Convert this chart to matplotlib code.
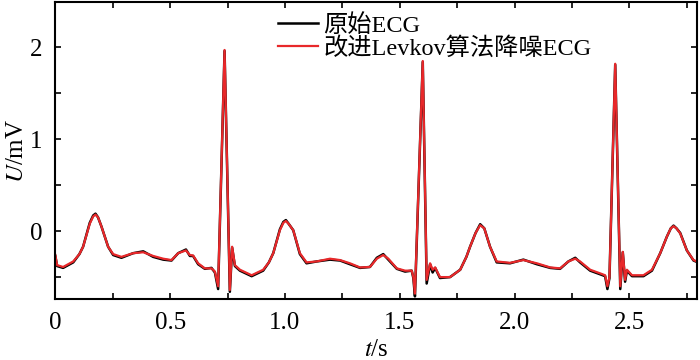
import numpy as np
import matplotlib
matplotlib.use("Agg")
import matplotlib.pyplot as plt
from matplotlib.ticker import MultipleLocator

plt.rcParams['font.family'] = ['Liberation Serif', 'Noto Sans CJK SC', 'DejaVu Sans']
plt.rcParams['mathtext.fontset'] = 'stix'

# time (s) of knots
t = [0.000, 0.008, 0.034, 0.078, 0.105, 0.121, 0.150, 0.165, 0.175, 0.186, 0.201,
     0.230, 0.252, 0.288, 0.339, 0.383, 0.426, 0.470, 0.506, 0.535, 0.569,
     0.586, 0.600, 0.622, 0.651, 0.680, 0.695, 0.709, 0.737, 0.760, 0.770,
     0.782, 0.804, 0.855, 0.905, 0.930, 0.949, 0.978, 0.993, 1.004, 1.016,
     1.036, 1.065, 1.094, 1.138, 1.196, 1.240, 1.283, 1.327, 1.370, 1.400,
     1.428, 1.450, 1.487, 1.523, 1.552, 1.559, 1.566, 1.600, 1.617, 1.632,
     1.643, 1.654, 1.675, 1.719, 1.763, 1.790, 1.806, 1.830, 1.850, 1.868,
     1.893, 1.922, 1.980, 2.038, 2.097, 2.155, 2.198, 2.234, 2.264, 2.285,
     2.329, 2.373, 2.394, 2.404, 2.413, 2.438, 2.460, 2.471, 2.481, 2.489,
     2.511, 2.561, 2.598, 2.634, 2.663, 2.680, 2.692, 2.705, 2.721, 2.750,
     2.779, 2.808]

# denoised ECG (mV)
ecg_denoised = [-0.26, -0.37, -0.39, -0.33, -0.25, -0.17, 0.08, 0.16, 0.18, 0.15, 0.05,
                -0.17, -0.25, -0.28, -0.24, -0.23, -0.27, -0.30, -0.315, -0.24, -0.21,
                -0.26, -0.265, -0.35, -0.405, -0.405, -0.44, -0.60, 1.97, -0.64, -0.17,
                -0.37, -0.42, -0.48, -0.42, -0.34, -0.24, 0.01, 0.09, 0.11, 0.08,
                0.01, -0.24, -0.34, -0.33, -0.30, -0.315, -0.35, -0.395, -0.39, -0.30,
                -0.26, -0.30, -0.405, -0.43, -0.43, -0.50, -0.68, 1.85, -0.53, -0.35,
                -0.42, -0.395, -0.50, -0.50, -0.42, -0.28, -0.17, -0.02, 0.065, 0.03,
                -0.17, -0.33, -0.345, -0.315, -0.35, -0.395, -0.405, -0.33, -0.30, -0.33,
                -0.42, -0.46, -0.48, -0.60, -0.50, 1.82, -0.60, -0.225, -0.53, -0.42,
                -0.48, -0.48, -0.42, -0.24, -0.06, 0.03, 0.054, 0.03, -0.025, -0.21,
                -0.315, -0.345]

# original ECG (mV), slightly deeper at the Q/S dips
ecg_original = [-0.27, -0.38, -0.40, -0.34, -0.25, -0.17, 0.09, 0.17, 0.19, 0.15, 0.05,
                -0.17, -0.26, -0.29, -0.24, -0.22, -0.28, -0.31, -0.32, -0.24, -0.20,
                -0.27, -0.27, -0.36, -0.41, -0.40, -0.45, -0.63, 1.96, -0.66, -0.18,
                -0.38, -0.43, -0.49, -0.43, -0.34, -0.24, 0.02, 0.10, 0.12, 0.08,
                0.01, -0.25, -0.35, -0.33, -0.31, -0.32, -0.36, -0.40, -0.39, -0.29,
                -0.25, -0.31, -0.41, -0.44, -0.43, -0.51, -0.71, 1.84, -0.57, -0.36,
                -0.45, -0.40, -0.51, -0.50, -0.42, -0.28, -0.17, -0.02, 0.075, 0.03,
                -0.17, -0.34, -0.35, -0.31, -0.36, -0.40, -0.41, -0.33, -0.29, -0.34,
                -0.43, -0.47, -0.49, -0.63, -0.51, 1.81, -0.63, -0.23, -0.55, -0.43,
                -0.49, -0.49, -0.43, -0.24, -0.06, 0.03, 0.06, 0.03, -0.02, -0.21,
                -0.32, -0.35]

fig = plt.figure(figsize=(7, 3.6), dpi=100)
ax = fig.add_axes([0.079, 0.169, 0.917, 0.825])

ax.plot(t, ecg_original, color='black', linewidth=1.8, label='原始ECG')
ax.plot(t, ecg_denoised, color='#e8282a', linewidth=1.6, label='改进Levkov算法降噪ECG')

ax.set_xlim(0, 2.795)
ax.set_ylim(-0.74, 2.49)
ax.set_xticks([0, 0.5, 1.0, 1.5, 2.0, 2.5])
ax.set_xticklabels(['0', '0.5', '1.0', '1.5', '2.0', '2.5'])
ax.set_yticks([0, 1, 2])
ax.xaxis.set_minor_locator(MultipleLocator(0.25))
ax.yaxis.set_minor_locator(MultipleLocator(0.5))
ax.tick_params(which='both', direction='in', top=True, right=True,
               length=4, width=1.2, labelsize=18, pad=9)
for s in ax.spines.values():
    s.set_linewidth(1.5)

ax.set_xlabel('$t$/s', fontsize=18, labelpad=4)
ax.set_ylabel('$U$/mV', fontsize=18, labelpad=2)

ax.legend(loc='upper left', bbox_to_anchor=(0.332, 0.993), frameon=False,
          fontsize=17.5, handlelength=1.65, handletextpad=0.2, labelspacing=0.0,
          borderaxespad=0)

fig.savefig('out.png', dpi=100)
